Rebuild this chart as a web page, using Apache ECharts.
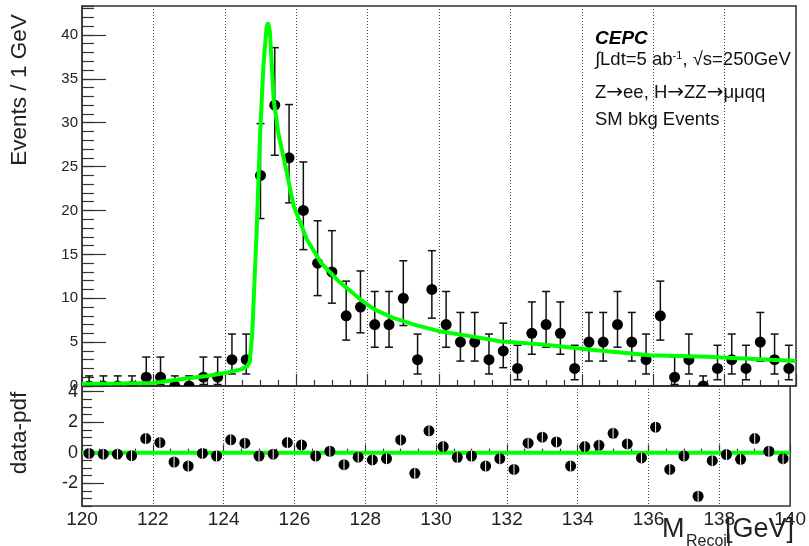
<!DOCTYPE html>
<html>
<head>
<meta charset="utf-8">
<script src="https://cdn.jsdelivr.net/npm/echarts@6/dist/echarts.min.js"></script>
<style>
html,body{margin:0;padding:0;background:#fff;}
#c{width:809px;height:546px;}
</style>
</head>
<body>
<div id="c"></div>
<script>
// Bin centers (GeV)
const binCenters = [120.2,120.6,121.0,121.4,121.8,122.2,122.6,123.0,123.4,123.8,
  124.2,124.6,125.0,125.4,125.8,126.2,126.6,127.0,127.4,127.8,
  128.2,128.6,129.0,129.4,129.8,130.2,130.6,131.0,131.4,131.8,
  132.2,132.6,133.0,133.4,133.8,134.2,134.6,135.0,135.4,135.8,
  136.2,136.6,137.0,137.4,137.8,138.2,138.6,139.0,139.4,139.8];
// Event counts per bin
const counts = [0,0,0,0,1,1,0,0,1,1,
  3,3,24,32,26,20,14,13,8,9,
  7,7,10,3,11,7,5,5,3,4,
  2,6,7,6,2,5,5,7,5,3,
  8,1,3,0,2,3,2,5,3,2];
// Error bar ends
const errLow = [0,0,0,0,0.17,0.17,0,0,0.17,0.17,
  1.37,1.37,19.08,26.29,20.87,15.54,10.30,9.44,5.23,6.06,
  4.42,4.42,6.89,1.37,7.73,4.42,2.84,2.84,1.37,2.09,
  0.71,3.62,4.42,3.62,0.71,2.84,2.84,4.42,2.84,1.37,
  5.23,0.17,1.37,0,0.71,1.37,0.71,2.84,1.37,0.71];
const errHigh = [1.15,1.15,1.15,1.15,3.30,3.30,1.15,1.15,3.30,3.30,
  5.92,5.92,29.90,38.55,32.07,25.53,18.83,17.70,11.95,13.11,
  10.77,10.77,14.27,5.92,15.42,10.77,8.38,8.38,5.92,7.16,
  4.64,9.58,10.77,9.58,4.64,8.38,8.38,10.77,8.38,5.92,
  11.95,3.30,5.92,1.15,4.64,5.92,4.64,8.38,5.92,4.64];
// Fitted pdf curve
const pdfX = [120,121,122,122.75,123.5,124.05,124.45,124.62,124.7,124.77,124.89,124.99,125.08,125.17,125.21,125.26,125.32,125.37,125.5,125.7,125.93,126.3,126.7,127.2,127.8,128.2,128.7,129.3,130.0,131.0,131.7,132.9,134.2,135.9,137.5,140];
const pdfY = [0.25,0.28,0.35,0.76,1.14,1.52,1.9,2.2,2.8,6.1,17.4,28.8,36.4,40.9,41.4,40.5,36.4,32.6,28.8,25.0,20.5,16.7,14.0,11.9,9.85,8.7,7.8,7.0,6.25,5.6,5.1,4.74,4.17,3.5,3.34,2.84];
// Residuals data-pdf
const pulls = [-0.05,-0.1,-0.1,-0.2,0.92,0.66,-0.62,-0.88,-0.05,-0.22,
  0.84,0.62,-0.22,-0.1,0.66,0.5,-0.22,0.09,-0.79,-0.3,
  -0.48,-0.4,0.83,-1.36,1.43,0.4,-0.31,-0.22,-0.88,-0.4,
  -1.1,0.62,1.01,0.7,-0.88,0.4,0.48,1.27,0.57,-0.35,
  1.67,-1.1,-0.22,-2.86,-0.53,-0.13,-0.44,0.92,0.09,-0.4];
const pullYTicks = [-2,0,2,4];

const FONT = '"Liberation Sans", Arial, Helvetica, sans-serif';
const chart = echarts.init(document.getElementById('c'), null, {renderer:'canvas'});

const gridLine = {show:true, lineStyle:{color:'#444', type:[1,2], width:1}};
const tickStyle = {color:'#333', width:1.2};

const option = {
  animation:false,
  backgroundColor:'#fff',
  grid:[
    {left:82, right:13, top:6, height:380, show:true, borderColor:'#333', borderWidth:1.5, backgroundColor:'transparent'},
    {left:82, right:13, top:386, height:120, show:true, borderColor:'#333', borderWidth:1.5, backgroundColor:'transparent'}
  ],
  xAxis:[
    {type:'value', gridIndex:0, min:120, max:140, interval:2,
     axisLine:{show:true, lineStyle:{color:'#333', width:1.5}},
     axisTick:{show:true, inside:true, length:12, lineStyle:tickStyle},
     minorTick:{show:true, splitNumber:4, length:6, lineStyle:tickStyle},
     axisLabel:{show:false}, splitLine:gridLine},
    {type:'value', gridIndex:1, min:120, max:140, interval:2,
     axisLine:{show:true, lineStyle:{color:'#333', width:1.5}},
     axisTick:{show:true, inside:true, length:8, lineStyle:tickStyle},
     minorTick:{show:true, splitNumber:4, length:4, lineStyle:tickStyle},
     axisLabel:{show:true, fontSize:19, color:'#222', fontFamily:FONT, margin:4},
     splitLine:gridLine}
  ],
  yAxis:[
    {type:'value', gridIndex:0, position:'left', min:0, max:43.3, interval:5,
     axisLine:{show:true, lineStyle:{color:'#333', width:1.5}},
     axisTick:{show:true, inside:true, length:24, lineStyle:tickStyle},
     axisLabel:{show:true, fontSize:15, color:'#222', fontFamily:FONT, margin:4, showMaxLabel:false},
     splitLine:{show:false}},
    {type:'value', gridIndex:0, position:'left', min:0, max:43.3, interval:1,
     axisLine:{show:false},
     axisTick:{show:true, inside:true, length:12, lineStyle:tickStyle},
     axisLabel:{show:false}, splitLine:{show:false}},
    {type:'value', gridIndex:1, position:'left', min:-3.5, max:4.37,
     axisLine:{show:true, lineStyle:{color:'#333', width:1.5}},
     axisTick:{show:true, inside:true, length:22, customValues:pullYTicks, lineStyle:tickStyle},
     axisLabel:{show:true, fontSize:18, color:'#222', fontFamily:FONT, margin:4, customValues:pullYTicks},
     splitLine:{show:false}},
    {type:'value', gridIndex:1, position:'left', min:-3.5, max:4.37, interval:0.5,
     axisLine:{show:false},
     axisTick:{show:true, inside:true, length:10, lineStyle:tickStyle},
     axisLabel:{show:false}, splitLine:{show:false}}
  ],
  series:[
    {type:'custom', xAxisIndex:0, yAxisIndex:0, clip:true, z:3,
     data: binCenters.map((b,i)=>[b, counts[i], errLow[i], errHigh[i]]),
     renderItem:function(params, api){
       const x = api.value(0), v = api.value(1), lo = api.value(2), hi = api.value(3);
       const pc = api.coord([x, v]);
       const pl = api.coord([x, lo]);
       const ph = api.coord([x, hi]);
       const st = {stroke:'#111', lineWidth:1.5};
       return {type:'group', children:[
         {type:'line', shape:{x1:pl[0], y1:pl[1], x2:ph[0], y2:ph[1]}, style:st},
         {type:'line', shape:{x1:pl[0]-4, y1:pl[1], x2:pl[0]+4, y2:pl[1]}, style:st},
         {type:'line', shape:{x1:ph[0]-4, y1:ph[1], x2:ph[0]+4, y2:ph[1]}, style:st},
         {type:'circle', shape:{cx:pc[0], cy:pc[1], r:5.5}, style:{fill:'#000'}}
       ]};
     }},
    {type:'line', xAxisIndex:0, yAxisIndex:0, z:4, showSymbol:false, symbol:'none',
     data: pdfX.map((x,i)=>[x, pdfY[i]]),
     lineStyle:{color:'#00ff00', width:4}, clip:true},
    {type:'line', xAxisIndex:1, yAxisIndex:2, z:2, showSymbol:false, symbol:'none',
     data: [[120,0],[140,0]],
     lineStyle:{color:'#00ff00', width:4}},
    {type:'custom', xAxisIndex:1, yAxisIndex:2, clip:true, z:3,
     data: binCenters.map((b,i)=>[b, pulls[i]]),
     renderItem:function(params, api){
       const pc = api.coord([api.value(0), api.value(1)]);
       return {type:'group', children:[
         {type:'circle', shape:{cx:pc[0], cy:pc[1], r:5.5}, style:{fill:'#000'}},
         {type:'line', shape:{x1:pc[0], y1:pc[1]-5.5, x2:pc[0], y2:pc[1]+5.5}, style:{stroke:'#fff', lineWidth:1}}
       ]};
     }}
  ],
  graphic:[
    {type:'text', x:20, y:90, rotation:Math.PI/2, style:{text:'Events / 1 GeV', font:'22.5px '+FONT, fill:'#222', align:'center', verticalAlign:'middle'}},
    {type:'text', x:20, y:433, rotation:Math.PI/2, style:{text:'data-pdf', font:'22.5px '+FONT, fill:'#222', align:'center', verticalAlign:'middle'}},
    {type:'text', x:595, y:39, style:{text:'CEPC', font:'italic bold 19px '+FONT, fill:'#000', verticalAlign:'middle'}},
    {type:'text', x:595, y:60, style:{text:'∫Ldt=5 ab{sup|-1}, √s=250GeV', font:'18.5px '+FONT, fill:'#111', verticalAlign:'middle',
      rich:{sup:{fontSize:11, verticalAlign:'top', padding:[0,0,9,0], fontFamily:FONT, fill:'#111'}}}},
    {type:'text', x:595, y:93, style:{text:'Z{a|→}ee, H{a|→}ZZ{a|→}μμqq', font:'18.5px '+FONT, fill:'#111', verticalAlign:'middle',
      rich:{a:{fontSize:20, fontFamily:'"DejaVu Sans", sans-serif', fill:'#111'}}}},
    {type:'text', x:595, y:120, style:{text:'SM bkg Events', font:'18.5px '+FONT, fill:'#111', verticalAlign:'middle'}},
    {type:'text', x:662, y:530, style:{text:'M', font:'27px '+FONT, fill:'#222', verticalAlign:'middle'}},
    {type:'text', x:686, y:542, style:{text:'Recoil', font:'16px '+FONT, fill:'#222', verticalAlign:'middle'}},
    {type:'text', x:794, y:530, style:{text:'[GeV]', font:'27px '+FONT, fill:'#222', align:'right', verticalAlign:'middle'}}
  ]
};
chart.setOption(option);
</script>
</body>
</html>
